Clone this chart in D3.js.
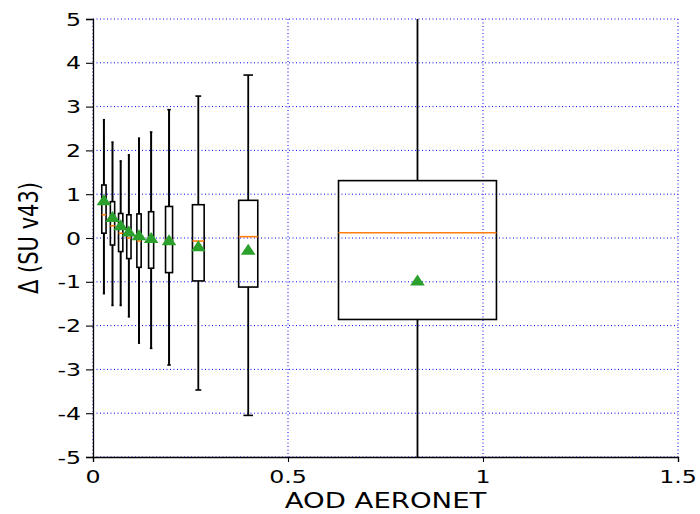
<!DOCTYPE html>
<html>
<head>
<meta charset="utf-8">
<script src="https://cdn.jsdelivr.net/npm/d3@7"></script>
<style>
  body { margin: 0; background: #fff; }
  text { font-family: "DejaVu Sans", sans-serif; fill: #000; }
</style>
</head>
<body>
<svg id="chart" width="700" height="514"></svg>
<script>
// box positions (AOD AERONET bin centres) and box widths
var centers = [0.028, 0.050, 0.071, 0.092, 0.118, 0.149, 0.195, 0.270, 0.398, 0.832];
var widths  = [0.011, 0.011, 0.011, 0.011, 0.011, 0.013, 0.018, 0.030, 0.049, 0.405];
// box statistics
var q1      = [0.11, -0.16, -0.31, -0.47, -0.67, -0.69, -0.79, -0.98, -1.12, -1.86];
var medians = [0.53, 0.28, 0.11, 0.00, -0.07, -0.05, -0.03, -0.07, 0.03, 0.12];
var q3      = [1.21, 0.83, 0.56, 0.53, 0.55, 0.60, 0.72, 0.76, 0.86, 1.31];
var whisLo  = [-1.27, -1.54, -1.54, -1.80, -2.40, -2.52, -2.90, -3.47, -4.05, -6.5];
var whisHi  = [2.70, 2.19, 1.76, 1.90, 2.28, 2.42, 2.93, 3.24, 3.72, 6.5];
var means   = [0.83, 0.45, 0.26, 0.12, 0.03, -0.03, -0.08, -0.22, -0.30, -1.00];

var xTicks = [0, 0.5, 1, 1.5];
var xTickLabels = ["0", "0.5", "1", "1.5"];
var yTicks = [-5, -4, -3, -2, -1, 0, 1, 2, 3, 4, 5];

var margin = {left: 93, right: 22, top: 19, bottom: 57};
var width = 700 - margin.left - margin.right;
var height = 514 - margin.top - margin.bottom;
var stretch = 1.28; // the figure text looks widened horizontally

var svg = d3.select("#chart");
var g = svg.append("g").attr("transform", "translate(" + margin.left + "," + margin.top + ")");

var x = d3.scaleLinear().domain([0, 1.5]).range([0, width]);
var y = d3.scaleLinear().domain([-5, 5]).range([height, 0]);

svg.append("defs").append("clipPath").attr("id", "clip")
    .append("rect").attr("x", 0).attr("y", 0).attr("width", width).attr("height", height);

// grid
var grid = g.append("g");
grid.selectAll(".gy").data(yTicks).enter().append("line")
    .attr("x1", 0).attr("x2", width)
    .attr("y1", d => y(d)).attr("y2", d => y(d))
    .attr("stroke", "#0000ff").attr("stroke-width", 1)
    .attr("stroke-dasharray", "1,2.5");
grid.selectAll(".gx").data(xTicks).enter().append("line")
    .attr("x1", d => x(d)).attr("x2", d => x(d))
    .attr("y1", 0).attr("y2", height)
    .attr("stroke", "#0000ff").attr("stroke-width", 1)
    .attr("stroke-dasharray", "1,2.5");

// axes (lines only, labels drawn below)
var xAxis = d3.axisBottom(x).tickValues(xTicks).tickFormat("").tickSizeOuter(0).tickSize(5);
var yAxis = d3.axisLeft(y).tickValues(yTicks).tickFormat("").tickSizeOuter(0).tickSize(7);

var gx = g.append("g").attr("transform", "translate(0," + height + ")").call(xAxis);
var gy = g.append("g").call(yAxis);
[gx, gy].forEach(a => {
    a.select(".domain").attr("stroke", "#000").attr("stroke-width", 1.3);
    a.selectAll(".tick line").attr("stroke", "#000").attr("stroke-width", 1.1);
});

// tick labels
g.selectAll(".xlab").data(xTicks).enter().append("text")
    .attr("transform", d => "translate(" + x(d) + "," + (height + 26) + ") scale(" + stretch + ",1)")
    .attr("text-anchor", "middle").style("font-size", "18.5px")
    .text((d, i) => xTickLabels[i]);
g.selectAll(".ylab").data(yTicks).enter().append("text")
    .attr("transform", d => "translate(-12," + y(d) + ") scale(" + stretch + ",1)")
    .attr("text-anchor", "end").attr("dy", "0.36em").style("font-size", "18.5px")
    .text(d => String(d));

// boxes
var marks = g.append("g").attr("clip-path", "url(#clip)");
var idx = d3.range(centers.length);

marks.selectAll(".box").data(idx).enter().append("g").each(function(i) {
    var s = d3.select(this);
    var cx = x(centers[i]);
    var bw = x(widths[i]) - x(0);
    var lw = bw < 8 ? 2 : 1.8;
    // whiskers
    s.append("line").attr("x1", cx).attr("x2", cx)
        .attr("y1", y(q3[i])).attr("y2", y(whisHi[i]))
        .attr("stroke", "#000").attr("stroke-width", lw);
    s.append("line").attr("x1", cx).attr("x2", cx)
        .attr("y1", y(q1[i])).attr("y2", y(whisLo[i]))
        .attr("stroke", "#000").attr("stroke-width", lw);
    // caps
    [whisHi[i], whisLo[i]].forEach(v => {
        s.append("line").attr("x1", cx - bw / 4).attr("x2", cx + bw / 4)
            .attr("y1", y(v)).attr("y2", y(v))
            .attr("stroke", "#000").attr("stroke-width", 1.6);
    });
    // box
    s.append("rect").attr("x", cx - bw / 2).attr("width", bw)
        .attr("y", y(q3[i])).attr("height", y(q1[i]) - y(q3[i]))
        .attr("fill", "none").attr("stroke", "#000").attr("stroke-width", 1.6);
    // median
    s.append("line").attr("x1", cx - bw / 2).attr("x2", cx + bw / 2)
        .attr("y1", y(medians[i])).attr("y2", y(medians[i]))
        .attr("stroke", "#ff7f0e").attr("stroke-width", 1.6);
});

// means
marks.selectAll(".mean").data(idx).enter().append("path")
    .attr("d", d3.symbol().type(d3.symbolTriangle).size(70))
    .attr("transform", i => "translate(" + x(centers[i]) + "," + y(means[i]) + ") scale(1.15,1)")
    .attr("fill", "#2ca02c");

// axis titles
svg.append("text")
    .attr("transform", "translate(" + (margin.left + width / 2) + ",508) scale(" + stretch + ",1)")
    .attr("text-anchor", "middle").style("font-size", "21.5px").text("AOD AERONET");
svg.append("text")
    .attr("transform", "translate(38," + (margin.top + height / 2) + ") scale(" + stretch + ",1) rotate(-90)")
    .attr("text-anchor", "middle").style("font-size", "21px").text("Δ (SU v43)");
</script>
</body>
</html>
